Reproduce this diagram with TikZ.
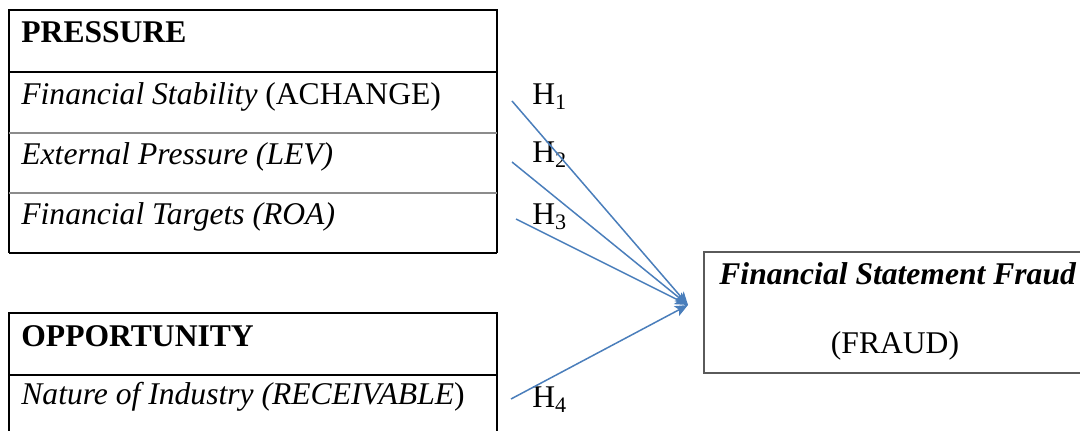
\documentclass[tikz,border=0pt]{standalone}
\usepackage{fontspec}
\setmainfont{Liberation Serif}
\usetikzlibrary{arrows.meta}
\definecolor{arrowblue}{HTML}{4A7EBB}
\definecolor{sepgray}{HTML}{8C8C8C}
\definecolor{boxgray}{HTML}{5A5A5A}
\begin{document}
\begin{tikzpicture}[x=0.5pt,y=-0.5pt,
  txt/.style={inner sep=0pt, anchor=base west, font=\fontsize{15.8pt}{19pt}\selectfont},
  hlab/.style={txt},
  headbox/.style={draw=black, line width=1.2pt},
  cellline/.style={draw=black, line width=0.6pt},
  sepline/.style={draw=sepgray, line width=0.6pt},
  fraudbox/.style={draw=boxgray, line width=0.8pt},
  arr/.style={draw=arrowblue, line width=0.75pt, -{Stealth[length=6.5pt,width=5.5pt,inset=1.5pt]}}]
\useasboundingbox (0,0) rectangle (1080,431);
\begin{scope}
\clip (0,0) rectangle (1080,431);
% PRESSURE table
\draw[cellline] (9,72) -- (9,253);
\draw[cellline] (497,72) -- (497,253);
\draw[sepline] (9,133) -- (497,133);
\draw[sepline] (9,193) -- (497,193);
\draw[cellline] (9,253) -- (497,253);
\draw[headbox] (9,10) rectangle (497,72);
% OPPORTUNITY table
\draw[cellline] (9,375) -- (9,440);
\draw[cellline] (497,375) -- (497,440);
\draw[headbox] (9,313) rectangle (497,375);
% Fraud box
\draw[fraudbox] (704,252) rectangle (1100,373);
\end{scope}
% texts
\node[txt] (ptitle) at (21,43) {\textbf{PRESSURE}};
\node[txt] (fs) at (21,105) {\textit{Financial Stability} (ACHANGE)};
\node[txt] (ep) at (21,165) {\textit{External Pressure (LEV)}};
\node[txt] (ft) at (21,225) {\textit{Financial Targets (ROA)}};
\node[txt] (otitle) at (21,347) {\textbf{OPPORTUNITY}};
\node[txt] (ni) at (21,405) {\textit{Nature of Industry (RECEIVABLE})};
\node[txt] (fr1) at (719,285) {\textbf{\textit{Financial Statement Fraud}}};
\node[txt, anchor=base] (fr2) at (895,354) {(FRAUD)};
% hypothesis labels
\node[hlab] (h1) at (532,105) {H\textsubscript{1}};
\node[hlab] (h2) at (532,163) {H\textsubscript{2}};
\node[hlab] (h3) at (532,225) {H\textsubscript{3}};
\node[hlab] (h4) at (532,408) {H\textsubscript{4}};
% connectors
\coordinate (s1) at (512,101);
\coordinate (s2) at (512,162);
\coordinate (s3) at (516,219);
\coordinate (s4) at (511,399);
\coordinate (tip) at (688,305);
\draw[arr] (s1) -- (tip);
\draw[arr] (s2) -- (tip);
\draw[arr] (s3) -- (tip);
\draw[arr] (s4) -- (tip);
\end{tikzpicture}
\end{document}
